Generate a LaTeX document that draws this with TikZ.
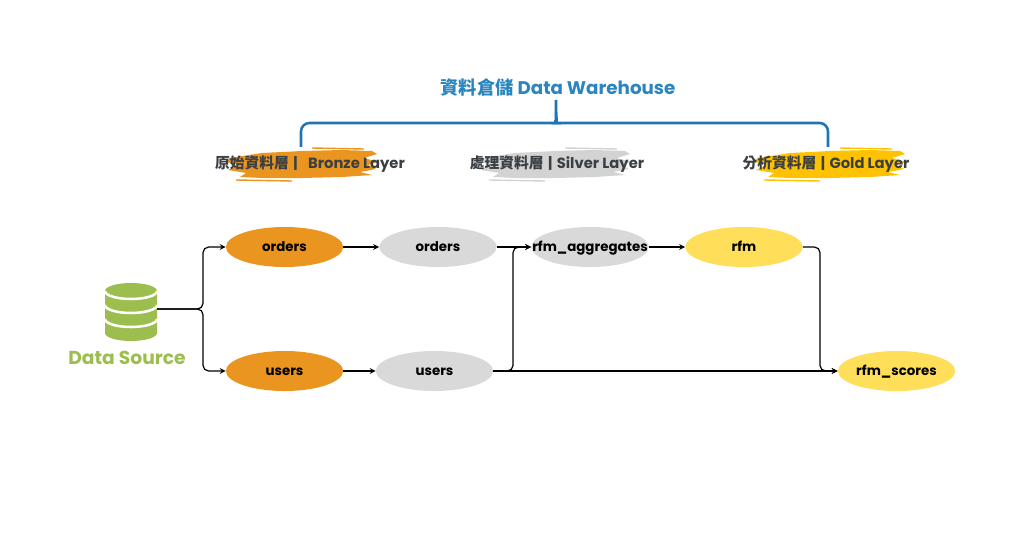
\documentclass[tikz,border=0pt]{standalone}
\usepackage{fontspec}
\setmainfont{Poppins}
\newfontfamily\cjk{Noto Sans CJK TC}
\usepackage{tikz}
\usetikzlibrary{shapes,shapes.geometric}
\usetikzlibrary{arrows}
\definecolor{bronzecol}{HTML}{E9951F}
\definecolor{silvercol}{HTML}{D9D9D9}
\definecolor{goldcol}{HTML}{FFDE59}
\definecolor{silverbrush}{HTML}{D3D3D3}
\definecolor{goldbrush}{HTML}{FFC200}
\definecolor{titleblue}{HTML}{2A85C0}
\definecolor{bracecol}{HTML}{1F74B6}
\definecolor{srcgreen}{HTML}{9CBE4F}
\definecolor{labelgray}{HTML}{3A3F44}

\begin{document}
\begin{tikzpicture}[x=0.025cm,y=-0.025cm,
		tbl/.style={ellipse,minimum width=2.93cm,minimum height=1cm,inner sep=0pt,font=\fontsize{9.5}{12}\selectfont\bfseries,
			text height=1.4ex,text depth=0.2ex,
			execute at begin node=\hbox to 0pt\bgroup\hss,execute at end node=\hss\egroup},
		bronze/.style={tbl,fill=bronzecol},
		silver/.style={tbl,fill=silvercol},
		gold/.style={tbl,fill=goldcol},
		flow/.style={-stealth,line width=0.85pt,rounded corners=4pt},
		layer/.style={font=\fontsize{10.5}{12}\selectfont\bfseries,text=labelgray},
		brace/.style={line width=1.8pt,bracecol,rounded corners=6pt}]
			\useasboundingbox (0,0) rectangle (1024,538);
			\foreach \bx/\bc in {302/bronzecol,555/silverbrush,830/goldbrush}{
				\fill[\bc,shift={(\bx,164)}] (-73,-6) -- (-40,-11) -- (0,-13) -- (40,-14) -- (70,-13) -- (75,-10) -- (62,-6) -- (76,-2) -- (66,1) -- (74,5) -- (58,8) -- (70,11) -- (40,13) -- (0,14) -- (-40,14) -- (-62,13) -- (-56,9) -- (-74,6) -- (-64,1) -- (-75,-2) -- cycle;
				\draw[\bc,line width=1pt,shift={(\bx,164)}] (-66,16) -- (-10,17) (10,-16) -- (62,-15);
			}
			\node[font=\fontsize{13}{15}\selectfont\bfseries,text=titleblue] (dw) at (558,87) {{\cjk 資料倉儲} Data Warehouse};
			\draw[brace] (301,147) |- (548,123) .. controls (554,123) and (556,119) .. (556,112) -- (556,100);
			\draw[brace] (828,147) |- (564,123) .. controls (558,123) and (556,119) .. (556,112);
			\node[layer] (bronzelayer) at (310,164) {{\cjk 原始資料層}\hspace{0.3em}|\hspace{0.7em}Bronze Layer};
			\node[layer] (silverlayer) at (557,164) {{\cjk 處理資料層}\hspace{0.3em}|\hspace{0.3em}Silver Layer};
			\node[layer] (goldlayer) at (826,164) {{\cjk 分析資料層}\hspace{0.3em}|\hspace{0.3em}Gold Layer};
			\begin{scope}[shift={(131,311)},y=0.025cm]
				\fill[srcgreen] (-26,20) -- (-26,-22) arc (180:360:26 and 8) -- (26,20) arc (0:180:26 and 8) -- cycle;
				\foreach \h in {20,6,-8}
					\draw[white,line width=1.8pt] (-26,\h) arc (180:360:26 and 8);
			\end{scope}
			\coordinate (db) at (157,309);
			\node[font=\fontsize{13.3}{16}\selectfont\bfseries,text=srcgreen] (src) at (127,358) {Data Source};
			\node[bronze] (ob) at (284.5,247) {orders};
			\node[bronze] (ub) at (284.5,371) {users};
			\node[silver] (os) at (438,247) {orders};
			\node[silver] (us) at (434.5,371) {users};
			\node[silver] (ra) at (590,247) {rfm\_aggregates};
			\node[gold] (rfm) at (744,247) {rfm};
			\node[gold] (rs) at (896.5,371) {rfm\_scores};
			\coordinate (split) at (203,309);
			\coordinate (merge) at (513,371);
			\coordinate (drop) at (820,247);
			\draw[flow] (db) -- (split) |- (ob.west);
			\draw[flow] (db) -- (split) |- (ub.west);
			\draw[flow] (ob) -- (os);
			\draw[flow] (ub) -- (us);
			\draw[flow] (os) -- (ra);
			\draw[flow] (us.east) -- (merge) |- (ra.west);
			\draw[flow] (us) -- (rs);
			\draw[flow] (ra) -- (rfm);
			\draw[flow] (rfm.east) -- (drop) |- (rs.west);
		\end{tikzpicture}
\end{document}
